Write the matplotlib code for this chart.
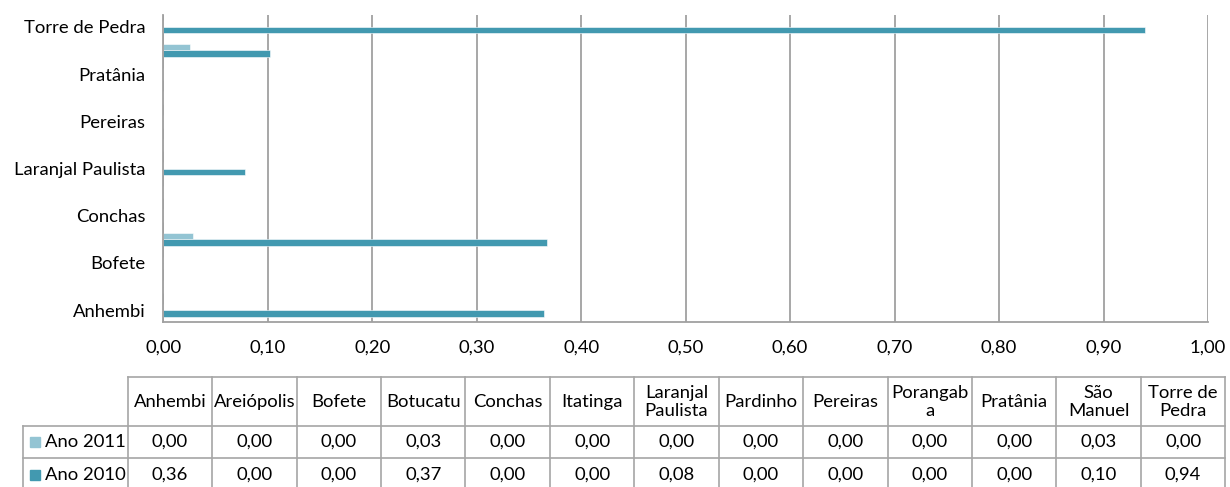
import numpy as np
import matplotlib.pyplot as plt

plt.rcParams['font.family'] = ['Lato', 'DejaVu Sans']

municipios = ["Anhembi", "Areiópolis", "Bofete", "Botucatu", "Conchas", "Itatinga",
              "Laranjal Paulista", "Pardinho", "Pereiras", "Porangaba", "Pratânia",
              "São Manuel", "Torre de Pedra"]
# header text as wrapped in the data table
cabecalho = ["Anhembi", "Areiópolis", "Bofete", "Botucatu", "Conchas", "Itatinga",
             "Laranjal\nPaulista", "Pardinho", "Pereiras", "Porangab\na", "Pratânia",
             "São\nManuel", "Torre de\nPedra"]
ano_2011 = [0.0, 0.0, 0.0, 0.028, 0.0, 0.0, 0.0, 0.0, 0.0, 0.0, 0.0, 0.026, 0.0]
ano_2010 = [0.364, 0.0, 0.0, 0.367, 0.0, 0.0, 0.078, 0.0, 0.0, 0.0, 0.0, 0.102, 0.94]
series = [("Ano 2011", ano_2011, "#93c4d3"), ("Ano 2010", ano_2010, "#4299b0")]

W, H = 1230, 487
FS = 13.3
fig = plt.figure(figsize=(W / 100, H / 100), dpi=100)

# bar chart area (pixel box converted to figure fractions)
left, right, top, bottom = 163.3, 1208, 15, 322
ax = fig.add_axes([left / W, 1 - bottom / H, (right - left) / W, (bottom - top) / H])

y = np.arange(len(municipios))
h = 0.27
ax.barh(y + h / 2, ano_2011, height=h, color=series[0][2], edgecolor="white", linewidth=0.4)
ax.barh(y - h / 2, ano_2010, height=h, color=series[1][2], edgecolor="white", linewidth=0.4)

ax.set_xlim(0, 1)
ax.set_ylim(-0.5, len(municipios) - 0.5)
ax.set_xticks(np.arange(0, 1.01, 0.1))
ax.set_xticklabels([f"{v:.2f}".replace(".", ",") for v in np.arange(0, 1.01, 0.1)])
ax.set_yticks(y[::2])
ax.set_yticklabels(municipios[::2])
ax.tick_params(axis="both", length=0, labelsize=FS, colors="#000000")
ax.tick_params(axis="y", pad=13)
ax.tick_params(axis="x", pad=13)
ax.grid(axis="x", color="#a0a0a0", linewidth=1.3)
ax.set_axisbelow(True)
for s in ["top", "right"]:
    ax.spines[s].set_visible(False)
for s in ["left", "bottom"]:
    ax.spines[s].set_color("#a0a0a0")
    ax.spines[s].set_linewidth(1.3)

# data table below the chart, drawn in pixel coordinates
tb = fig.add_axes([0, 0, 1, 1])
tb.set_xlim(0, W)
tb.set_ylim(H, 0)
tb.axis("off")

ncol = len(municipios)
col_x0, col_x1 = 127.7, 1225.3
col_w = (col_x1 - col_x0) / ncol
lab_x0 = 22.7
row_y = [376.5, 425.7, 458.3, 491]
line_kw = dict(color="#a6a6a6", linewidth=1.2, clip_on=False)

tb.plot([col_x0, col_x1], [row_y[0], row_y[0]], **line_kw)
for ry in row_y[1:]:
    tb.plot([lab_x0, col_x1], [ry, ry], **line_kw)
tb.plot([lab_x0, lab_x0], [row_y[1], row_y[3]], **line_kw)
for i in range(ncol + 1):
    cx = col_x0 + i * col_w
    tb.plot([cx, cx], [row_y[0], row_y[3]], **line_kw)

for i, nome in enumerate(cabecalho):
    cx = col_x0 + (i + 0.5) * col_w
    tb.text(cx, (row_y[0] + row_y[1]) / 2 + 1, nome, ha="center", va="center",
            fontsize=FS, linespacing=1.15)

for r, (nome, vals, cor) in enumerate(series):
    cy = (row_y[r + 1] + row_y[r + 2]) / 2
    tb.add_patch(plt.Rectangle((30, cy - 5), 10, 10, color=cor))
    tb.text(45, cy, nome, ha="left", va="center", fontsize=FS)
    for i, v in enumerate(vals):
        cx = col_x0 + (i + 0.5) * col_w
        tb.text(cx, cy, f"{v:.2f}".replace(".", ","), ha="center", va="center",
                fontsize=FS)

fig.savefig("out.png", dpi=100)
